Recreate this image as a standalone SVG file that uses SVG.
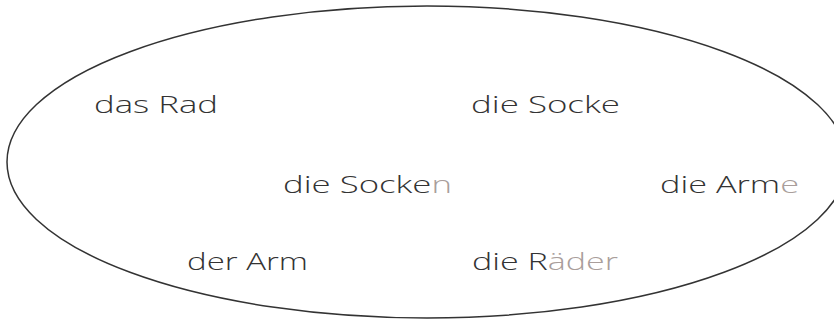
<svg xmlns="http://www.w3.org/2000/svg" width="834" height="320" viewBox="0 0 834 320">
<style>
.w{font-family:"Open Sans","Liberation Sans",Arial,sans-serif;font-weight:300;font-size:24px;fill:#333333}
.h{fill:#a99e9b}
</style>
<rect width="834" height="320" fill="#ffffff"/>
<g id="ellipse"><ellipse cx="427" cy="162" rx="420" ry="156" fill="none" stroke="#333333" stroke-width="1.5"/></g>
<g id="das-rad"><text class="w" x="94" y="113" textLength="124" lengthAdjust="spacingAndGlyphs">das Rad</text></g>
<g id="die-socke"><text class="w" x="471" y="113" textLength="149" lengthAdjust="spacingAndGlyphs">die Socke</text></g>
<g id="die-socken"><text class="w" x="283" y="193" textLength="169" lengthAdjust="spacingAndGlyphs">die Socke<tspan class="h">n</tspan></text></g>
<g id="die-arme"><text class="w" x="660" y="193" textLength="139" lengthAdjust="spacingAndGlyphs">die Arm<tspan class="h">e</tspan></text></g>
<g id="der-arm"><text class="w" x="187" y="270" textLength="121" lengthAdjust="spacingAndGlyphs">der Arm</text></g>
<g id="die-raeder"><text class="w" x="472" y="270" textLength="146" lengthAdjust="spacingAndGlyphs">die R<tspan class="h">äder</tspan></text></g>
</svg>
